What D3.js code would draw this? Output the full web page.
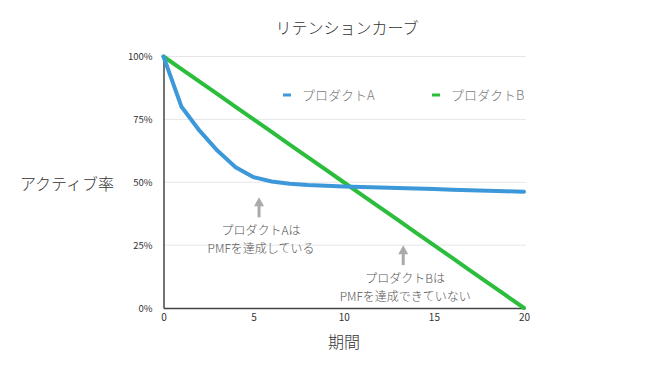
<!DOCTYPE html>
<html><head><meta charset="utf-8">
<script src="https://cdn.jsdelivr.net/npm/d3@7"></script>
<style>body{margin:0;background:#fff}svg{display:block}text{font-family:"Noto Sans CJK JP","Noto Sans",sans-serif}</style>
</head><body><svg id="c" width="664" height="381"></svg>
<script>
const periods = [0,1,2,3,4,5,6,7,8,9,10,11,12,13,14,15,16,17,18,19,20];
const productA = [100,80,70.5,62.5,56,52,50.3,49.4,48.9,48.6,48.3,48.1,47.9,47.7,47.5,47.3,47.0,46.8,46.6,46.4,46.2];
const productB = [100,95,90,85,80,75,70,65,60,55,50,45,40,35,30,25,20,15,10,5,0];
const seriesNames = ["プロダクトA","プロダクトB"];
const xTicks = [0,5,10,15,20];
const yTicks = [0,25,50,75,100];
const title = "リテンションカーブ";
const yTitle = "アクティブ率";
const xTitle = "期間";
const notes = [
  {x:5.3, y:44, lines:["プロダクトAは","PMFを達成している"]},
  {x:13.3, y:25, lines:["プロダクトBは","PMFを達成できていない"]}
];

const svg = d3.select("#c");
const x = d3.scaleLinear().domain([0,20]).range([163.5,524]);
const y = d3.scaleLinear().domain([0,100]).range([308,56.5]);
const colors = ["#3d98da","#2bbd3c"];

// gridlines
svg.append("g").selectAll("line").data(yTicks.filter(d=>d>0)).join("line")
  .attr("x1",x(0)).attr("x2",x(20)+2).attr("y1",d=>y(d)).attr("y2",d=>y(d))
  .attr("stroke","#e6e6e6").attr("stroke-width",1);

// axes
const yAxis = svg.append("g").attr("transform",`translate(${x(0)},0)`)
  .call(d3.axisLeft(y).tickValues(yTicks).tickFormat(d=>d+"%").tickSize(0).tickPadding(11));
yAxis.select(".domain").attr("stroke","#444").attr("stroke-width",1.5);
yAxis.selectAll("text").attr("font-size",9.5).attr("fill","#333").attr("font-family","Liberation Sans, Arial, sans-serif");

const xAxis = svg.append("g").attr("transform",`translate(0,${y(0)})`)
  .call(d3.axisBottom(x).tickValues(xTicks).tickSize(0).tickPadding(6));
xAxis.select(".domain").attr("stroke","#444").attr("stroke-width",1.5);
xAxis.selectAll("text").attr("font-size",10).attr("fill","#333").attr("font-family","Liberation Sans, Arial, sans-serif");

// lines
const line = d3.line().x((d,i)=>x(periods[i])).y(d=>y(d)).curve(d3.curveLinear);
[productB, productA].forEach((s,k)=>{
  const idx = k===0?1:0;
  svg.append("path").datum(s).attr("d",line).attr("fill","none")
    .attr("stroke",colors[idx]).attr("stroke-width",4).attr("stroke-linejoin","round").attr("stroke-linecap","round");
});

// legend
const legendX = [283,432];
seriesNames.forEach((n,i)=>{
  svg.append("line").attr("x1",legendX[i]).attr("x2",legendX[i]+8).attr("y1",95).attr("y2",95)
    .attr("stroke",colors[i]).attr("stroke-width",3);
  svg.append("text").attr("x",legendX[i]+19).attr("y",100).text(n)
    .attr("font-size",13).attr("fill","#777").attr("font-weight",300);
});

// annotations
notes.forEach(n=>{
  const ax = x(n.x);
  const top = y(n.y);
  svg.append("line").attr("x1",ax).attr("x2",ax).attr("y1",top+8).attr("y2",top+20)
    .attr("stroke","#aaa").attr("stroke-width",3);
  svg.append("path").attr("d",`M${ax-5},${top+9}L${ax},${top}L${ax+5},${top+9}Z`).attr("fill","#aaa");
  n.lines.forEach((l,j)=>{
    svg.append("text").attr("x",ax+2).attr("y",top+38+j*17.5).attr("text-anchor","middle")
      .attr("font-size",12).attr("fill","#555").attr("font-weight",300).text(l);
  });
});

// titles
svg.append("text").attr("x",347).attr("y",34).attr("text-anchor","middle").attr("font-size",16)
  .attr("fill","#333").attr("font-weight",300).text(title);
svg.append("text").attr("x",67).attr("y",190).attr("text-anchor","middle").attr("font-size",16)
  .attr("fill","#333").attr("font-weight",300).text(yTitle);
svg.append("text").attr("x",344).attr("y",348).attr("text-anchor","middle").attr("font-size",16)
  .attr("fill","#333").attr("font-weight",300).text(xTitle);
</script></body></html>
